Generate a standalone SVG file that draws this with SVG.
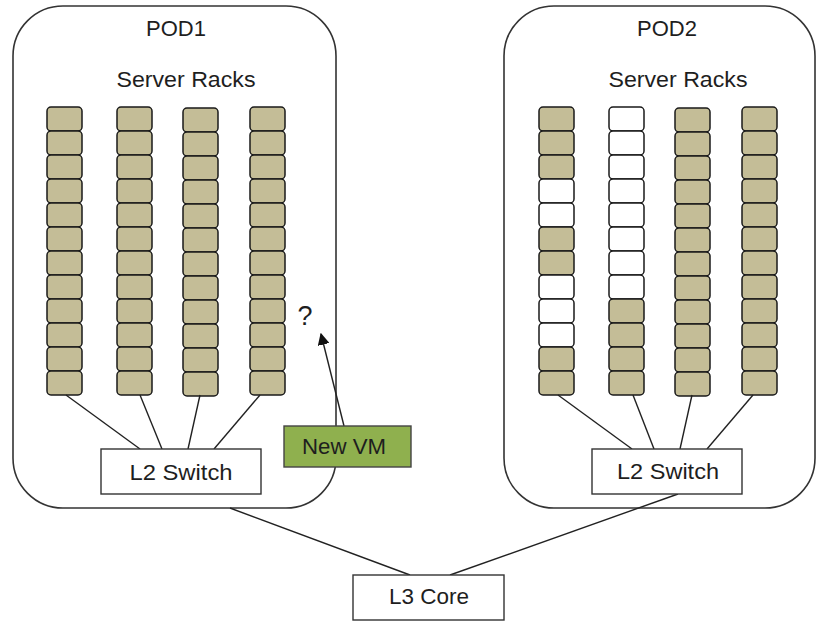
<svg xmlns="http://www.w3.org/2000/svg" width="817" height="621" viewBox="0 0 817 621">
<defs>
<style>
.pod{fill:#fff;stroke:#333;stroke-width:1.6}
.box{fill:#fff;stroke:#333;stroke-width:1.4}
.t{font-family:"Liberation Sans",Arial,sans-serif;font-size:22px;fill:#1e1e1e;text-anchor:middle}
.c{fill:#C4BD97;stroke:#1a1a1a;stroke-width:1.5}
.w{fill:#fff;stroke:#1a1a1a;stroke-width:1.5}
.ln{stroke:#222;stroke-width:1.4;fill:none}
</style>
<rect id="cell" width="35" height="24" rx="4"/>
<marker id="ah" viewBox="0 0 10 10" refX="9" refY="5" markerWidth="12" markerHeight="12" markerUnits="userSpaceOnUse" orient="auto">
<path d="M0,0 L10,5 L0,10 z" fill="#111"/>
</marker>
</defs>

<g id="pod1">
<rect class="pod" x="13" y="6" width="323" height="502" rx="50"/>
<text class="t" x="176" y="36">POD1</text>
<text class="t" x="186" y="87" textLength="139" lengthAdjust="spacingAndGlyphs">Server Racks</text>
</g>
<g id="pod2">
<rect class="pod" x="504" y="6" width="311" height="502" rx="50"/>
<text class="t" x="667" y="36">POD2</text>
<text class="t" x="678" y="87" textLength="139" lengthAdjust="spacingAndGlyphs">Server Racks</text>
</g>

<g id="pod1-racks">
<g id="pod1-rack1" class="c">
<use href="#cell" x="47" y="107"/><use href="#cell" x="47" y="131"/><use href="#cell" x="47" y="155"/><use href="#cell" x="47" y="179"/><use href="#cell" x="47" y="203"/><use href="#cell" x="47" y="227"/><use href="#cell" x="47" y="251"/><use href="#cell" x="47" y="275"/><use href="#cell" x="47" y="299"/><use href="#cell" x="47" y="323"/><use href="#cell" x="47" y="347"/><use href="#cell" x="47" y="371"/>
</g>
<g id="pod1-rack2" class="c">
<use href="#cell" x="117" y="107"/><use href="#cell" x="117" y="131"/><use href="#cell" x="117" y="155"/><use href="#cell" x="117" y="179"/><use href="#cell" x="117" y="203"/><use href="#cell" x="117" y="227"/><use href="#cell" x="117" y="251"/><use href="#cell" x="117" y="275"/><use href="#cell" x="117" y="299"/><use href="#cell" x="117" y="323"/><use href="#cell" x="117" y="347"/><use href="#cell" x="117" y="371"/>
</g>
<g id="pod1-rack3" class="c">
<use href="#cell" x="183" y="108"/><use href="#cell" x="183" y="132"/><use href="#cell" x="183" y="156"/><use href="#cell" x="183" y="180"/><use href="#cell" x="183" y="204"/><use href="#cell" x="183" y="228"/><use href="#cell" x="183" y="252"/><use href="#cell" x="183" y="276"/><use href="#cell" x="183" y="300"/><use href="#cell" x="183" y="324"/><use href="#cell" x="183" y="348"/><use href="#cell" x="183" y="372"/>
</g>
<g id="pod1-rack4" class="c">
<use href="#cell" x="250" y="107"/><use href="#cell" x="250" y="131"/><use href="#cell" x="250" y="155"/><use href="#cell" x="250" y="179"/><use href="#cell" x="250" y="203"/><use href="#cell" x="250" y="227"/><use href="#cell" x="250" y="251"/><use href="#cell" x="250" y="275"/><use href="#cell" x="250" y="299"/><use href="#cell" x="250" y="323"/><use href="#cell" x="250" y="347"/><use href="#cell" x="250" y="371"/>
</g>
</g>

<g id="pod2-racks">
<g id="pod2-rack1">
<use class="c" href="#cell" x="539" y="107"/><use class="c" href="#cell" x="539" y="131"/><use class="c" href="#cell" x="539" y="155"/><use class="w" href="#cell" x="539" y="179"/><use class="w" href="#cell" x="539" y="203"/><use class="c" href="#cell" x="539" y="227"/><use class="c" href="#cell" x="539" y="251"/><use class="w" href="#cell" x="539" y="275"/><use class="w" href="#cell" x="539" y="299"/><use class="w" href="#cell" x="539" y="323"/><use class="c" href="#cell" x="539" y="347"/><use class="c" href="#cell" x="539" y="371"/>
</g>
<g id="pod2-rack2">
<use class="w" href="#cell" x="609" y="107"/><use class="w" href="#cell" x="609" y="131"/><use class="w" href="#cell" x="609" y="155"/><use class="w" href="#cell" x="609" y="179"/><use class="w" href="#cell" x="609" y="203"/><use class="w" href="#cell" x="609" y="227"/><use class="w" href="#cell" x="609" y="251"/><use class="w" href="#cell" x="609" y="275"/><use class="c" href="#cell" x="609" y="299"/><use class="c" href="#cell" x="609" y="323"/><use class="c" href="#cell" x="609" y="347"/><use class="c" href="#cell" x="609" y="371"/>
</g>
<g id="pod2-rack3" class="c">
<use href="#cell" x="675" y="108"/><use href="#cell" x="675" y="132"/><use href="#cell" x="675" y="156"/><use href="#cell" x="675" y="180"/><use href="#cell" x="675" y="204"/><use href="#cell" x="675" y="228"/><use href="#cell" x="675" y="252"/><use href="#cell" x="675" y="276"/><use href="#cell" x="675" y="300"/><use href="#cell" x="675" y="324"/><use href="#cell" x="675" y="348"/><use href="#cell" x="675" y="372"/>
</g>
<g id="pod2-rack4" class="c">
<use href="#cell" x="742" y="107"/><use href="#cell" x="742" y="131"/><use href="#cell" x="742" y="155"/><use href="#cell" x="742" y="179"/><use href="#cell" x="742" y="203"/><use href="#cell" x="742" y="227"/><use href="#cell" x="742" y="251"/><use href="#cell" x="742" y="275"/><use href="#cell" x="742" y="299"/><use href="#cell" x="742" y="323"/><use href="#cell" x="742" y="347"/><use href="#cell" x="742" y="371"/>
</g>
</g>

<g id="connectors">
<line class="ln" x1="66" y1="395" x2="140" y2="449"/>
<line class="ln" x1="140" y1="395" x2="162" y2="449"/>
<line class="ln" x1="200" y1="395" x2="188" y2="449"/>
<line class="ln" x1="260" y1="395" x2="214" y2="449"/>
<line class="ln" x1="558" y1="395" x2="632" y2="449"/>
<line class="ln" x1="633" y1="395" x2="654" y2="449"/>
<line class="ln" x1="692" y1="395" x2="680" y2="449"/>
<line class="ln" x1="753" y1="395" x2="707" y2="449"/>
<line class="ln" x1="230" y1="508" x2="410" y2="575"/>
<line class="ln" x1="678" y1="494" x2="450" y2="575"/>
<line class="ln" x1="344" y1="426" x2="321" y2="334" marker-end="url(#ah)"/>
</g>

<g id="pod1-switch">
<rect class="box" x="101" y="449" width="160" height="45"/>
<text class="t" x="181" y="480" textLength="103" lengthAdjust="spacingAndGlyphs">L2 Switch</text>
</g>
<g id="pod2-switch">
<rect class="box" x="592" y="449" width="150" height="45"/>
<text class="t" x="668" y="479" textLength="102" lengthAdjust="spacingAndGlyphs">L2 Switch</text>
</g>
<g id="new-vm">
<rect x="284" y="426" width="127" height="41" fill="#8FB04E" stroke="#444" stroke-width="1.4"/>
<text class="t" x="344" y="454" textLength="84" lengthAdjust="spacingAndGlyphs">New VM</text>
</g>
<g id="question">
<text class="t" x="305" y="325" style="font-size:27px">?</text>
</g>
<g id="l3-core">
<rect class="box" x="353" y="575" width="151" height="45"/>
<text class="t" x="429" y="604" textLength="80" lengthAdjust="spacingAndGlyphs">L3 Core</text>
</g>
</svg>
